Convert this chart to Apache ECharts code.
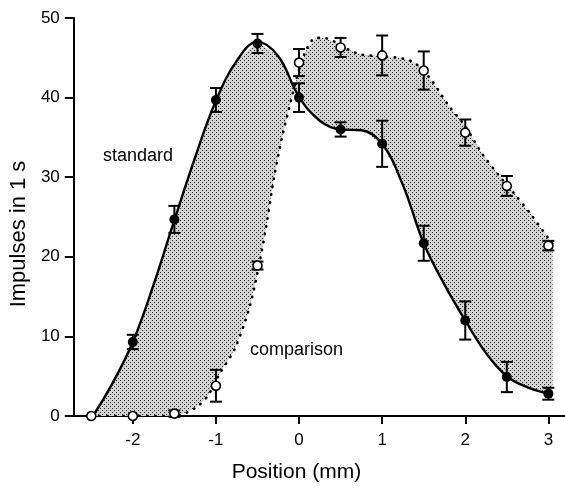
<!DOCTYPE html>
<html>
<head>
<meta charset="utf-8">
<script src="https://cdn.jsdelivr.net/npm/echarts@6/dist/echarts.min.js"></script>
<style>
html,body{margin:0;padding:0;background:#fff;}
#chart{width:565px;height:488px;}
</style>
</head>
<body>
<div id="chart"></div>
<script>
// ---- data ----
const positions = [-2.5, -2, -1.5, -1, -0.5, 0, 0.5, 1, 1.5, 2, 2.5, 3];
const standardX = [-2, -1.5, -1, -0.5, 0, 0.5, 1, 1.5, 2, 2.5, 3];
const standardMean = [9.3, 24.7, 39.7, 46.8, 40.0, 36.0, 34.2, 21.7, 12.0, 4.9, 2.8];
const standardErr = [0.9, 1.7, 1.5, 1.2, 1.8, 0.9, 2.9, 2.2, 2.4, 1.9, 0.75];
const comparisonMean = [0, 0, 0.3, 3.8, 18.9, 44.4, 46.3, 45.3, 43.4, 35.6, 28.9, 21.4];
const comparisonErr = [0, 0, 0.4, 2.0, 0.5, 1.7, 1.2, 2.5, 2.4, 1.65, 1.25, 0.6];
// fitted curves as drawn in the reference
const standardCurveX = [-2.48, -2.25, -2, -1.75, -1.5, -1.25, -1, -0.75, -0.5, -0.25, 0, 0.25, 0.5, 0.75, 1, 1.25, 1.5, 1.75, 2, 2.25, 2.5, 2.75, 3.05];
const standardCurveY = [0, 4.0, 9.3, 16.5, 24.6, 32.5, 39.6, 44.6, 47.0, 45.2, 40.1, 37.1, 36.0, 35.9, 34.2, 29.0, 21.7, 16.5, 12.0, 7.9, 5.0, 3.6, 2.7];
const comparisonCurveX = [-2.5, -2, -1.6, -1.44, -1.25, -1.1, -0.95, -0.77, -0.6, -0.5, -0.4, -0.3, -0.2, -0.1, 0, 0.1, 0.2, 0.3, 0.45, 0.6, 0.75, 1, 1.25, 1.4, 1.6, 1.8, 2, 2.2, 2.4, 2.6, 2.8, 3.05];
const comparisonCurveY = [0, 0, 0, 0.1, 1.0, 2.5, 5.4, 8.5, 13.5, 18.0, 23.5, 30.0, 35.2, 39.5, 43.5, 46.3, 47.5, 47.5, 46.9, 46.0, 45.4, 45.2, 44.9, 44.3, 42.1, 39.0, 36.4, 33.0, 30.3, 27.8, 25.2, 21.6];
const xTicks = [-2, -1, 0, 1, 2, 3];
const yTicks = [0, 10, 20, 30, 40, 50];

// ---- stipple pattern ----
const pat = document.createElement('canvas');
pat.width = 4; pat.height = 4;
const pc = pat.getContext('2d');
pc.fillStyle = '#d2d2d2'; pc.fillRect(0, 0, 4, 4);
pc.fillStyle = '#2e2e2e';
pc.fillRect(0, 0, 1, 1); pc.fillRect(2, 2, 1, 1);

const FONT = 'Liberation Sans, Arial, sans-serif';
const stdCurve = standardCurveX.map((x, i) => [x, standardCurveY[i]]);
const cmpCurve = comparisonCurveX.map((x, i) => [x, comparisonCurveY[i]]);
const stdPts = standardX.map((x, i) => [x, standardMean[i], standardErr[i]]);
const cmpPts = positions.map((x, i) => [x, comparisonMean[i], comparisonErr[i]]);

function errorBar(params, api) {
  const x = api.value(0), y = api.value(1), e = api.value(2);
  if (!e) return null;
  const top = api.coord([x, y + e]);
  const bot = api.coord([x, y - e]);
  const hw = 6;
  const st = { stroke: '#000', lineWidth: 2 };
  return {
    type: 'group',
    children: [
      { type: 'line', shape: { x1: top[0], y1: top[1], x2: bot[0], y2: bot[1] }, style: st },
      { type: 'line', shape: { x1: top[0] - hw, y1: top[1], x2: top[0] + hw, y2: top[1] }, style: st },
      { type: 'line', shape: { x1: bot[0] - hw, y1: bot[1], x2: bot[0] + hw, y2: bot[1] }, style: st }
    ]
  };
}

const chart = echarts.init(document.getElementById('chart'), null, { renderer: 'canvas' });
chart.setOption({
  animation: false,
  backgroundColor: '#fff',
  grid: { left: 71, right: 0, top: 18, bottom: 68, containLabel: false },
  xAxis: {
    type: 'value', min: -2.71, max: 3.2,
    name: 'Position (mm)', nameLocation: 'middle', nameGap: 46,
    nameTextStyle: { fontFamily: FONT, fontSize: 21, color: '#000', padding: [0, 46, 0, 0] },
    axisLine: { show: true, onZero: false, lineStyle: { color: '#000', width: 2 } },
    axisTick: { show: true, customValues: xTicks, length: 8, lineStyle: { color: '#000', width: 2 } },
    axisLabel: { customValues: xTicks, margin: 16, fontFamily: FONT, fontSize: 17, color: '#000' },
    splitLine: { show: false }
  },
  yAxis: {
    type: 'value', min: 0, max: 50, interval: 10,
    name: 'Impulses in 1 s', nameLocation: 'middle', nameGap: 42, nameRotate: 90,
    nameTextStyle: { fontFamily: FONT, fontSize: 22, color: '#000', padding: [0, 34, 0, 0] },
    axisLine: { show: true, onZero: false, lineStyle: { color: '#000', width: 2 } },
    axisTick: { show: true, length: 9, lineStyle: { color: '#000', width: 2 } },
    axisLabel: { margin: 14, fontFamily: FONT, fontSize: 17, color: '#000' },
    splitLine: { show: false }
  },
  graphic: [
    { type: 'text', left: 103, top: 147, style: { text: 'standard', font: '18px ' + FONT, fill: '#000' } },
    { type: 'text', left: 250, top: 341, style: { text: 'comparison', font: '18px ' + FONT, fill: '#000' } }
  ],
  series: [
    {
      type: 'custom', name: 'difference', z: 1,
      data: [[0]],
      renderItem: function (params, api) {
        const pts = stdCurve.map(p => api.coord(p)).concat(cmpCurve.slice().reverse().map(p => api.coord(p)));
        return { type: 'polygon', shape: { points: pts }, style: { fill: { image: pat, repeat: 'repeat' }, stroke: null } };
      },
      silent: true
    },
    {
      type: 'line', name: 'standard fit', z: 3, data: stdCurve, smooth: 0.4, showSymbol: false, symbol: 'none',
      lineStyle: { color: '#000', width: 2.4 }
    },
    {
      type: 'line', name: 'comparison fit', z: 3, data: cmpCurve, smooth: 0.3, showSymbol: false, symbol: 'none',
      lineStyle: { color: '#000', width: 2.6, type: [0.5, 7.5], cap: 'round' }
    },
    { type: 'custom', name: 'standard err', z: 4, data: stdPts, renderItem: errorBar },
    { type: 'custom', name: 'comparison err', z: 4, data: cmpPts, renderItem: errorBar },
    {
      type: 'scatter', name: 'standard', z: 5, data: stdPts, symbol: 'circle', symbolSize: 10,
      itemStyle: { color: '#000', opacity: 1 }
    },
    {
      type: 'scatter', name: 'comparison', z: 5, data: cmpPts, symbol: 'circle', symbolSize: 9,
      itemStyle: { color: '#fff', borderColor: '#000', borderWidth: 1.6, opacity: 1 }
    }
  ]
});
</script>
</body>
</html>
